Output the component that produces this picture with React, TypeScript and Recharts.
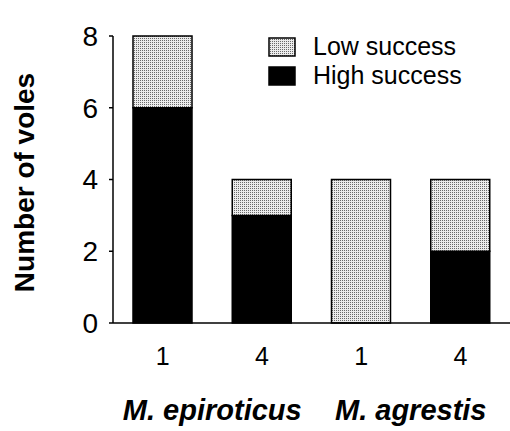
import React from 'react';
import { BarChart, Bar, XAxis, YAxis, Legend } from 'recharts';

const categories = ['1', '4', '1', '4'];
const groups = ['M. epiroticus', 'M. epiroticus', 'M. agrestis', 'M. agrestis'];
const highSuccess = [6, 3, 0, 2];
const lowSuccess = [2, 1, 4, 2];
const yTicks = [0, 2, 4, 6, 8];
const seriesNames = { low: 'Low success', high: 'High success' };

const data = categories.map((c, i) => ({
  idx: i,
  cat: c,
  group: groups[i],
  high: highSuccess[i],
  low: lowSuccess[i],
}));

const FONT = '"Liberation Sans", Arial, Helvetica, sans-serif';

const LegendContent = () => {
  const items = [
    { label: seriesNames.low, fill: 'url(#stipple)' },
    { label: seriesNames.high, fill: '#000' },
  ];
  return (
    <div style={{ fontFamily: FONT, fontSize: 25, color: '#000' }}>
      {items.map((it) => (
        <div key={it.label} style={{ display: 'flex', alignItems: 'center', height: 29 }}>
          <svg width={28} height={20} style={{ display: 'block' }}>
            <rect x={1} y={1} width={26} height={18} fill={it.fill} stroke="#000" strokeWidth={1.5} />
          </svg>
          <span style={{ marginLeft: 17, lineHeight: '29px' }}>{it.label}</span>
        </div>
      ))}
    </div>
  );
};

const YLabel = (props: any) => {
  const vb = props.viewBox || { x: 0, y: 36, width: 113, height: 287 };
  const cx = vb.x + 24;
  const cy = vb.y + vb.height / 2 + 3;
  return (
    <text
      x={cx}
      y={cy}
      transform={`rotate(-90, ${cx}, ${cy})`}
      textAnchor="middle"
      dominantBaseline="central"
      fontFamily={FONT}
      fontWeight="bold"
      fontSize={28}
      fill="#000"
    >
      Number of voles
    </text>
  );
};

export default function App() {
  return (
    <div style={{ position: 'absolute', left: 0, top: 0, width: 510, height: 431, background: '#fff' }}>
      <svg width={0} height={0} style={{ position: 'absolute' }}>
        <defs>
          <pattern id="stipple" width={2} height={2} patternUnits="userSpaceOnUse">
            <rect x={0} y={0} width={2} height={2} fill="#ececec" />
            <rect x={0} y={0} width={1} height={1} fill="#6a6a6a" />
          </pattern>
        </defs>
      </svg>
      <BarChart
        width={510}
        height={431}
        data={data}
        margin={{ top: 36, right: 0, bottom: 0, left: 0 }}
        barSize={59}
      >
        <YAxis
          width={113}
          domain={[0, 8]}
          ticks={yTicks}
          type="number"
          tickSize={4}
          tickMargin={11}
          axisLine={{ stroke: '#000', strokeWidth: 1.5 }}
          tickLine={{ stroke: '#000', strokeWidth: 1.5 }}
          tick={{ fill: '#000', fontSize: 28, fontFamily: FONT }}
          label={<YLabel />}
        />
        <XAxis
          dataKey="idx"
          type="category"
          height={50}
          tickFormatter={(v: number) => categories[v]}
          tickSize={0}
          tickMargin={24}
          axisLine={{ stroke: '#000', strokeWidth: 1.5 }}
          tickLine={false}
          tick={{ fill: '#000', fontSize: 25, fontFamily: FONT }}
        />
        <XAxis
          xAxisId="grp"
          dataKey="group"
          type="category"
          allowDuplicatedCategory={false}
          height={58}
          tickSize={0}
          tickMargin={26}
          axisLine={false}
          tickLine={false}
          tick={{ fill: '#000', fontSize: 29, fontFamily: FONT, fontWeight: 'bold', fontStyle: 'italic' }}
        />
        <Legend
          layout="vertical"
          align="center"
          verticalAlign="middle"
          content={<LegendContent />}
          wrapperStyle={{ position: 'absolute', left: 268, top: 32, width: 'auto', height: 'auto' }}
        />
        <Bar dataKey="high" name={seriesNames.high} stackId="a" fill="#000" stroke="#000" strokeWidth={1.5} isAnimationActive={false} />
        <Bar dataKey="low" name={seriesNames.low} stackId="a" fill="url(#stipple)" stroke="#000" strokeWidth={1.5} isAnimationActive={false} />
      </BarChart>
    </div>
  );
}
